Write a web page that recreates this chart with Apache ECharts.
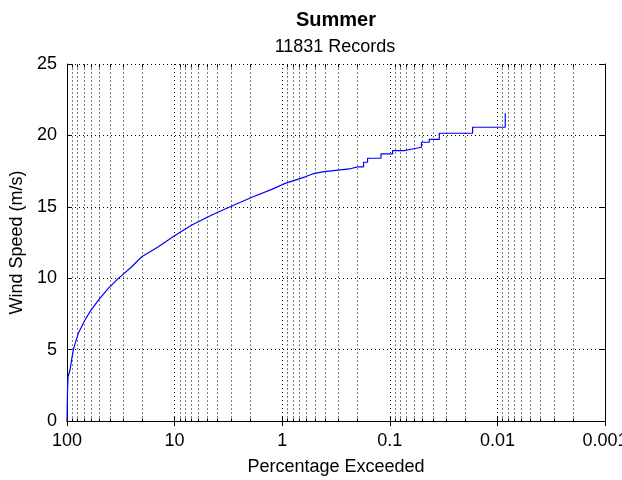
<!DOCTYPE html>
<html>
<head>
<meta charset="utf-8">
<script src="https://cdn.jsdelivr.net/npm/echarts@6/dist/echarts.min.js"></script>
<style>
  html, body { margin: 0; padding: 0; background: #fff; overflow: hidden; }
  #chart { width: 622px; height: 480px; }
</style>
</head>
<body>
<div id="chart"></div>
<script>
// Exceedance curve: share of records (%) whose wind speed is at or above a level
const exceedPct = [100, 99.0, 97.9, 93.8, 87.4, 78.5, 68.0, 61.1, 51.1, 41.3, 33.3, 25.0, 20.2,
  14.15, 10.1, 6.92, 4.51, 2.94, 1.91, 1.25, 0.938, 0.611, 0.522, 0.42, 0.3165, 0.238, 0.2];
const windSpeed = [0, 2.0, 3.1, 3.57, 5.0, 6.14, 7.07, 7.66, 8.47, 9.29, 9.99, 10.8, 11.5,
  12.2, 12.96, 13.73, 14.43, 15.06, 15.67, 16.22, 16.64, 17.1, 17.3, 17.45, 17.55, 17.65, 17.8];

// Sparse upper tail: discrete speed levels, each starting at the listed exceedance
const tailPct = [0.2, 0.1753, 0.1609, 0.1208, 0.0942, 0.0733, 0.0635, 0.0508, 0.043, 0.0347, 0.017, 0.00845, 0.00845];
const tailSpeed = [17.8, 18.12, 18.4, 18.7, 18.93, 19.03, 19.17, 19.52, 19.72, 20.15, 20.57, 20.57, 21.55];

// Axis ticks
const xTickValues = [100, 10, 1, 0.1, 0.01, 0.001];
const xTickLabels = ['100', '10', '1', '0.1', '0.01', '0.001'];
const yTickLabels = ['0', '5', '10', '15', '20', '25'];
const decadeMultipliers = [2, 3, 4, 5, 6, 7, 8, 9];
const decades = [10, 1, 0.1, 0.01, 0.001];

const titleText = 'Summer';
const subtitleText = '11831 Records';
const xName = 'Percentage Exceeded';
const yName = 'Wind Speed (m/s)';

// minor log gridline positions (2..9 within each decade)
const minorPct = [];
decades.forEach(d => decadeMultipliers.forEach(m => minorPct.push(+(m * d).toPrecision(3))));

const FONT = 'Liberation Sans, Arial, Helvetica, sans-serif';
const FS = 18;
const Y_MIN = 0, Y_MAX = 25;

function xLabel(v) {
  for (let i = 0; i < xTickValues.length; i++) {
    if (Math.abs(Math.log10(v) - Math.log10(xTickValues[i])) < 1e-6) return xTickLabels[i];
  }
  return '';
}

const chart = echarts.init(document.getElementById('chart'), null, { renderer: 'canvas' });

const gridDot = { color: '#000', width: 1, type: [1, 3] };

const option = {
  animation: false,
  backgroundColor: '#fff',
  title: [
    { text: titleText, left: 331, top: 5, textAlign: 'center',
      textStyle: { fontFamily: FONT, fontSize: 20, fontWeight: 'bold', color: '#000' } },
    { text: subtitleText, left: 330, top: 33, textAlign: 'center',
      textStyle: { fontFamily: FONT, fontSize: FS, fontWeight: 'normal', color: '#000' } }
  ],
  grid: { left: 67, right: 17, top: 64, bottom: 59, containLabel: false, outerBoundsMode: 'none' },
  xAxis: [
    {
      type: 'log', logBase: 10, min: 0.001, max: 100, inverse: true,
      position: 'bottom',
      name: xName, nameLocation: 'middle', nameGap: 37,
      nameTextStyle: { fontFamily: FONT, fontSize: FS, color: '#000' },
      axisLine: { show: true, lineStyle: { color: '#000', width: 1 } },
      axisTick: { show: true, inside: true, length: 5, lineStyle: { color: '#000' } },
      axisLabel: { fontFamily: FONT, fontSize: FS, color: '#000', margin: 11, formatter: xLabel,
                   showMinLabel: true, showMaxLabel: true },
      splitLine: { show: true, lineStyle: gridDot }
    },
    {
      type: 'log', logBase: 10, min: 0.001, max: 100, inverse: true,
      position: 'top',
      axisLine: { show: true, lineStyle: { color: '#000', width: 1 } },
      axisTick: { show: true, inside: true, length: 5, lineStyle: { color: '#000' } },
      axisLabel: { show: false },
      splitLine: { show: false }
    }
  ],
  yAxis: [
    {
      type: 'value', min: Y_MIN, max: Y_MAX, interval: 5,
      position: 'left',
      name: yName, nameLocation: 'middle', nameGap: 38, nameRotate: 90,
      nameTextStyle: { fontFamily: FONT, fontSize: FS, color: '#000' },
      axisLine: { show: true, lineStyle: { color: '#000', width: 1 } },
      axisTick: { show: true, inside: true, length: 5, lineStyle: { color: '#000' } },
      axisLabel: { fontFamily: FONT, fontSize: FS, color: '#000', margin: 10,
                   formatter: v => yTickLabels[Math.round(v / 5)] },
      splitLine: { show: true, lineStyle: gridDot }
    },
    {
      type: 'value', min: Y_MIN, max: Y_MAX, interval: 5,
      position: 'right',
      axisLine: { show: true, lineStyle: { color: '#000', width: 1 } },
      axisTick: { show: true, inside: true, length: 5, lineStyle: { color: '#000' } },
      axisLabel: { show: false },
      splitLine: { show: false }
    }
  ],
  series: [
    {
      // minor log gridlines with short inward ticks on the top and bottom edges
      type: 'custom',
      silent: true,
      xAxisIndex: 0, yAxisIndex: 0,
      data: minorPct.map(v => [v, Y_MIN]),
      encode: { x: 0, y: 1 },
      z: 1,
      renderItem: function (params, api) {
        const v = api.value(0);
        const bot = api.coord([v, Y_MIN]);
        const top = api.coord([v, Y_MAX]);
        const x = Math.round(bot[0]) + 0.5;
        const y0 = Math.round(bot[1]) + 0.5;
        const y1 = Math.round(top[1]) + 0.5;
        return {
          type: 'group',
          children: [
            { type: 'line', shape: { x1: x, y1: y1, x2: x, y2: y0 },
              style: { stroke: '#000', lineWidth: 1, lineDash: [1, 3] } },
            { type: 'line', shape: { x1: x, y1: y0, x2: x, y2: y0 - 3 },
              style: { stroke: '#000', lineWidth: 1 } },
            { type: 'line', shape: { x1: x, y1: y1, x2: x, y2: y1 + 3 },
              style: { stroke: '#000', lineWidth: 1 } }
          ]
        };
      }
    },
    {
      type: 'line',
      xAxisIndex: 0, yAxisIndex: 0,
      data: exceedPct.map((p, i) => [p, windSpeed[i]]),
      showSymbol: false,
      lineStyle: { color: '#0000ff', width: 1.2 },
      z: 5
    },
    {
      type: 'line',
      xAxisIndex: 0, yAxisIndex: 0,
      data: tailPct.map((p, i) => [p, tailSpeed[i]]),
      step: 'end',
      showSymbol: false,
      lineStyle: { color: '#0000ff', width: 1.2 },
      z: 5
    }
  ]
};

chart.setOption(option);
</script>
</body>
</html>
